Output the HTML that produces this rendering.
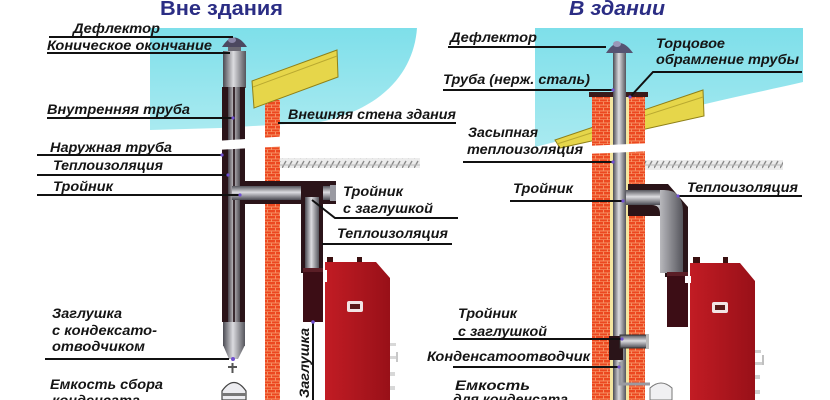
<!DOCTYPE html>
<html><head><meta charset="utf-8">
<style>
html,body{margin:0;padding:0;background:#fff;}
svg{display:block;}
text{font-family:"Liberation Sans","DejaVu Sans",sans-serif;font-weight:bold;font-style:italic;fill:#151515;font-size:14px;}
.t{font-size:20px;fill:#2b2d84;}
</style></head><body>
<svg width="830" height="400" viewBox="0 0 830 400" xmlns="http://www.w3.org/2000/svg">
<defs>
<pattern id="brick" width="8" height="6" patternUnits="userSpaceOnUse">
<rect width="8" height="6" fill="#ec4820"/>
<rect y="2.5" width="8" height="0.9" fill="#f8976a"/>
<rect y="5.4" width="8" height="0.6" fill="#f8976a"/>
<rect x="3" y="0" width="0.9" height="2.5" fill="#f8976a"/>
<rect x="7" y="3.3" width="0.9" height="2.2" fill="#f8976a"/>
</pattern>
<pattern id="hatch" width="6" height="10" patternUnits="userSpaceOnUse">
<rect width="6" height="10" fill="#ececec"/>
<path d="M0,8 L4,1" stroke="#8a8a8a" stroke-width="1.4"/>
<rect y="4.5" width="6" height="1" fill="#b8b8b8"/>
</pattern>
<linearGradient id="pg" x1="0" x2="1" y1="0" y2="0">
<stop offset="0" stop-color="#4a4a52"/><stop offset=".45" stop-color="#dcdce0"/><stop offset="1" stop-color="#55555c"/>
</linearGradient>
<linearGradient id="pgv" x1="0" x2="0" y1="0" y2="1">
<stop offset="0" stop-color="#55555c"/><stop offset=".45" stop-color="#dcdce0"/><stop offset="1" stop-color="#4a4a52"/>
</linearGradient>
<linearGradient id="sky" x1="0" x2="0" y1="0" y2="1">
<stop offset="0" stop-color="#7edfea"/><stop offset="1" stop-color="#a9eaf0"/>
</linearGradient>
<linearGradient id="boil" x1="0" x2="1" y1="0" y2="0">
<stop offset="0" stop-color="#c21c24"/><stop offset="1" stop-color="#981018"/>
</linearGradient>
</defs>

<!-- skies -->
<path d="M150,28 L417,28 C414,70 385,108 320,122 L220,128 L150,130 Z" fill="url(#sky)"/>
<path d="M535,28 L803,28 L803,82 C760,92 700,104 650,118 L535,147 Z" fill="url(#sky)"/>

<!-- titles -->
<text x="160" y="15" class="t" style="font-style:normal" textLength="123" lengthAdjust="spacingAndGlyphs">Вне здания</text>
<text x="569" y="15" class="t" textLength="96" lengthAdjust="spacingAndGlyphs">В здании</text>

<!-- ===== LEFT ===== -->
<!-- ground hatch -->
<rect x="280" y="158" width="140" height="10" fill="url(#hatch)"/>
<!-- brick wall -->
<rect x="265" y="100" width="15" height="300" fill="url(#brick)"/>
<!-- board -->
<polygon points="252,81 337,50 338,77 254,108" fill="#e6d64a" stroke="#8f8018" stroke-width="1"/>
<line x1="253" y1="87" x2="337" y2="56" stroke="#b9a930" stroke-width="1"/>

<!-- deflector -->
<path d="M222,47 Q234,28 247,47 Z" fill="#4c4860"/>
<ellipse cx="232" cy="40" rx="4" ry="3" fill="#8a86a8"/>
<rect x="228" y="47" width="13" height="5" fill="#6a6872"/>
<!-- top grey section -->
<rect x="223" y="51" width="23" height="37" fill="url(#pg)"/>
<!-- dark sections -->
<rect x="222" y="87" width="23" height="235" fill="#2b1419"/>
<rect x="228" y="87" width="12" height="235" fill="url(#pg)" opacity=".85"/>
<rect x="233" y="87" width="2" height="235" fill="#3a2a30"/>
<!-- tee horizontal -->
<rect x="240" y="181" width="96" height="23" fill="#2b1419"/>
<rect x="232" y="186" width="100" height="14" fill="url(#pgv)"/>
<rect x="330" y="185" width="6" height="16" fill="#9a9aa2"/>
<!-- tee down -->
<rect x="301" y="181" width="22" height="92" fill="#2b1419"/>
<rect x="305" y="197" width="14" height="76" fill="url(#pg)"/>
<!-- adapter -->
<rect x="303" y="268" width="20" height="54" fill="#3c0d15"/>
<rect x="303" y="268" width="20" height="4" fill="#5a1e26"/>
<!-- bottom cone -->
<rect x="223" y="322" width="22" height="24" fill="url(#pg)"/>
<polygon points="223,345 245,345 238,359 229,359" fill="url(#pg)"/>
<circle cx="233" cy="359" r="2" fill="#7050d0"/>
<line x1="232.5" y1="363" x2="232.5" y2="373" stroke="#555" stroke-width="2"/>
<line x1="228" y1="367" x2="237" y2="367" stroke="#555" stroke-width="2"/>
<path d="M222,400 L222,391 Q234,374 246,391 L246,400 Z" fill="#ececf0" stroke="#444" stroke-width="1.2"/>
<rect x="222" y="393" width="24" height="3" fill="#777"/>

<!-- gap -->
<polygon points="215,141 290,136 290,146 215,150" fill="#fff"/>

<!-- boiler left -->
<rect x="327" y="257" width="6" height="6" fill="#3a1010"/>
<rect x="357" y="257" width="5" height="6" fill="#3a1010"/>
<path d="M325,262 L376,262 L390,278 L390,400 L325,400 Z" fill="url(#boil)"/>
<rect x="323" y="270" width="4" height="12" fill="#fff"/>
<rect x="347" y="301" width="16" height="11" rx="2" fill="#f2e4e4"/>
<rect x="350" y="304" width="10" height="5" fill="#5a1a1a"/>
<rect x="390" y="343" width="6" height="3" fill="#d8d8d8"/>
<rect x="390" y="356" width="8" height="3" fill="#d8d8d8"/>
<rect x="396" y="352" width="2" height="10" fill="#c8c8c8"/>
<rect x="390" y="372" width="5" height="4" fill="#d8d8d8"/>
<rect x="390" y="386" width="5" height="4" fill="#d8d8d8"/>

<!-- left lines -->
<g stroke="#111" stroke-width="2" fill="none">
<line x1="49" y1="37" x2="233" y2="37"/>
<line x1="47" y1="53" x2="230" y2="53"/>
<line x1="47" y1="118" x2="233" y2="118"/>
<line x1="37" y1="155" x2="222" y2="155"/>
<line x1="37" y1="175" x2="228" y2="175"/>
<line x1="37" y1="195" x2="240" y2="195"/>
<polyline points="312,200 335,218 458,218"/>
<line x1="322" y1="244" x2="452" y2="244"/>
<line x1="278" y1="123" x2="456" y2="123"/>
<line x1="45" y1="359" x2="229" y2="359"/>
<line x1="313" y1="322" x2="313" y2="400"/>
</g>
<g fill="#7050d0">
<circle cx="233" cy="118" r="1.6"/><circle cx="222" cy="155" r="1.6"/><circle cx="228" cy="175" r="1.6"/><circle cx="240" cy="195" r="1.6"/><circle cx="313" cy="322" r="1.8"/>
</g>

<!-- left labels -->
<text x="73" y="33" textLength="87" lengthAdjust="spacingAndGlyphs">Дефлектор</text>
<text x="47" y="50" textLength="165" lengthAdjust="spacingAndGlyphs">Коническое окончание</text>
<text x="47" y="114" textLength="143" lengthAdjust="spacingAndGlyphs">Внутренняя труба</text>
<text x="50" y="152" textLength="122" lengthAdjust="spacingAndGlyphs">Наружная труба</text>
<text x="53" y="170" textLength="110" lengthAdjust="spacingAndGlyphs">Теплоизоляция</text>
<text x="53" y="191" textLength="60" lengthAdjust="spacingAndGlyphs">Тройник</text>
<text x="288" y="119" textLength="168" lengthAdjust="spacingAndGlyphs">Внешняя стена здания</text>
<text x="343" y="196" textLength="60" lengthAdjust="spacingAndGlyphs">Тройник</text>
<text x="343" y="213" textLength="90" lengthAdjust="spacingAndGlyphs">с заглушкой</text>
<text x="337" y="238" textLength="111" lengthAdjust="spacingAndGlyphs">Теплоизоляция</text>
<text x="52" y="318" textLength="70" lengthAdjust="spacingAndGlyphs">Заглушка</text>
<text x="52" y="335" textLength="105" lengthAdjust="spacingAndGlyphs">с кондексато-</text>
<text x="52" y="351" textLength="93" lengthAdjust="spacingAndGlyphs">отводчиком</text>
<text x="50" y="389" textLength="113" lengthAdjust="spacingAndGlyphs">Емкость сбора</text>
<text x="52" y="405" textLength="88" lengthAdjust="spacingAndGlyphs">конденсата</text>
<text transform="translate(309,398) rotate(-90)" textLength="70" lengthAdjust="spacingAndGlyphs">Заглушка</text>

<!-- ===== RIGHT ===== -->
<rect x="645" y="160" width="138" height="10" fill="url(#hatch)"/>
<polygon points="555,140 703,90 704,116 560,148" fill="#e6d64a" stroke="#8f8018" stroke-width="1"/>
<line x1="557" y1="144" x2="703" y2="97" stroke="#b9a930" stroke-width="1"/>

<!-- chimney bricks -->
<rect x="592" y="95" width="18" height="305" fill="url(#brick)"/>
<rect x="629" y="95" width="16" height="305" fill="url(#brick)"/>
<rect x="589" y="92" width="24" height="5" fill="#3a1a1a"/>
<rect x="626" y="92" width="22" height="5" fill="#3a1a1a"/>
<rect x="610" y="97" width="3" height="303" fill="#f3e6a0"/>
<rect x="626" y="97" width="3" height="303" fill="#f3e6a0"/>
<!-- pipe -->
<rect x="613" y="51" width="13" height="349" fill="url(#pg)"/>
<path d="M606,53 Q619,33 633,53 Z" fill="#565472"/>
<ellipse cx="617" cy="44" rx="4" ry="3" fill="#9a98b8"/>
<!-- gap -->
<polygon points="585,146 652,143 652,151 585,154" fill="#fff"/>

<!-- elbow -->
<polygon points="628,184 668,184 688,207 688,277 665,277 665,216 628,216" fill="#2a1418"/>
<path d="M626,190 L664,190 Q683,190 683,212 L683,273 L660,273 L660,214 Q660,205 652,205 L626,205 Z" fill="url(#pg)"/>
<rect x="626" y="190" width="34" height="15" fill="url(#pgv)"/>
<rect x="667" y="272" width="21" height="55" fill="#3c0d15"/>
<rect x="667" y="272" width="21" height="4" fill="#5a1e26"/>

<!-- boiler right -->
<rect x="693" y="257" width="7" height="6" fill="#3a1010"/>
<rect x="723" y="257" width="5" height="6" fill="#3a1010"/>
<path d="M690,263 L740,263 L755,281 L755,400 L690,400 Z" fill="url(#boil)"/>
<rect x="685" y="276" width="6" height="7" fill="#fff"/>
<rect x="712" y="302" width="16" height="11" rx="2" fill="#f2e4e4"/>
<rect x="715" y="305" width="10" height="5" fill="#5a1a1a"/>
<rect x="755" y="350" width="6" height="3" fill="#d0d0d0"/>
<rect x="755" y="362" width="9" height="3" fill="#d0d0d0"/>
<rect x="762" y="355" width="2" height="10" fill="#c0c0c0"/>
<rect x="755" y="375" width="5" height="4" fill="#d0d0d0"/>
<rect x="755" y="390" width="5" height="4" fill="#d0d0d0"/>

<!-- tee with cap right -->
<rect x="609" y="336" width="14" height="24" fill="#2a1418"/>
<rect x="620" y="335" width="28" height="13" fill="url(#pgv)" stroke="#333" stroke-width="1"/>
<rect x="646" y="334" width="3" height="15" fill="#bbb"/>
<path d="M620,362 L620,384 L650,384" stroke="#9a9aa0" stroke-width="3" fill="none"/>
<path d="M650,400 L650,388 Q661,378 672,388 L672,400 Z" fill="#f0f0f2" stroke="#777" stroke-width="1"/>

<!-- right lines -->
<g stroke="#111" stroke-width="2" fill="none">
<line x1="448" y1="47" x2="606" y2="47"/>
<polyline points="630,97 653,72 802,72"/>
<line x1="443" y1="90" x2="613" y2="90"/>
<line x1="463" y1="162" x2="613" y2="162"/>
<line x1="510" y1="201" x2="623" y2="201"/>
<line x1="678" y1="196" x2="802" y2="196"/>
<line x1="453" y1="339" x2="622" y2="339"/>
<line x1="453" y1="367" x2="619" y2="367"/>
</g>
<g fill="#7050d0">
<circle cx="613" cy="90" r="1.6"/><circle cx="630" cy="97" r="1.6"/><circle cx="613" cy="162" r="1.6"/><circle cx="623" cy="201" r="1.6"/><circle cx="678" cy="196" r="1.6"/><circle cx="622" cy="339" r="1.6"/><circle cx="619" cy="367" r="1.6"/>
</g>

<!-- right labels -->
<text x="450" y="42" textLength="87" lengthAdjust="spacingAndGlyphs">Дефлектор</text>
<text x="656" y="48" textLength="69" lengthAdjust="spacingAndGlyphs">Торцовое</text>
<text x="656" y="64" textLength="143" lengthAdjust="spacingAndGlyphs">обрамление трубы</text>
<text x="443" y="84" textLength="147" lengthAdjust="spacingAndGlyphs">Труба (нерж. сталь)</text>
<text x="468" y="137" textLength="70" lengthAdjust="spacingAndGlyphs">Засыпная</text>
<text x="467" y="154" textLength="116" lengthAdjust="spacingAndGlyphs">теплоизоляция</text>
<text x="513" y="193" textLength="60" lengthAdjust="spacingAndGlyphs">Тройник</text>
<text x="687" y="192" textLength="111" lengthAdjust="spacingAndGlyphs">Теплоизоляция</text>
<text x="458" y="318" textLength="59" lengthAdjust="spacingAndGlyphs">Тройник</text>
<text x="458" y="336" textLength="89" lengthAdjust="spacingAndGlyphs">с заглушкой</text>
<text x="427" y="361" textLength="163" lengthAdjust="spacingAndGlyphs">Конденсатоотводчик</text>
<text x="455" y="390" textLength="75" lengthAdjust="spacingAndGlyphs">Емкость</text>
<text x="453" y="404" textLength="115" lengthAdjust="spacingAndGlyphs">для конденсата</text>
</svg>
</body></html>
